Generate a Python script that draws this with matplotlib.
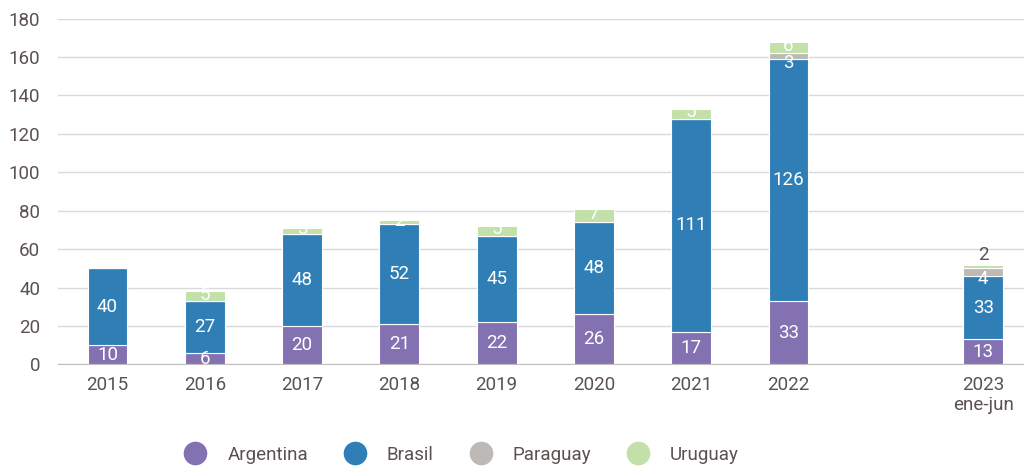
import numpy as np
import matplotlib.pyplot as plt
from matplotlib.lines import Line2D

plt.rcParams['font.family'] = ['Roboto', 'DejaVu Sans']

years = ['2015', '2016', '2017', '2018', '2019', '2020', '2021', '2022', '2023\nene-jun']
argentina = [10, 6, 20, 21, 22, 26, 17, 33, 13]
brasil = [40, 27, 48, 52, 45, 48, 111, 126, 33]
paraguay = [0, 0, 0, 0, 0, 0, 0, 3, 4]
uruguay = [0, 5, 3, 2, 5, 7, 5, 6, 2]

series = [('Argentina', argentina, '#8471b1'),
          ('Brasil', brasil, '#2f7fb6'),
          ('Paraguay', paraguay, '#bcb9b7'),
          ('Uruguay', uruguay, '#c2e0a8')]

txt = '#5a5150'
x = np.array([0, 1, 2, 3, 4, 5, 6, 7, 9])

fig = plt.figure(figsize=(10.24, 4.66), dpi=100)
ax = fig.add_axes([0.057, 0.218, 0.943, 0.742])

bottom = np.zeros(len(x))
for name, vals, col in series:
    vals = np.array(vals, dtype=float)
    ax.bar(x, vals, 0.41, bottom=bottom, color=col, edgecolor='white',
           linewidth=0.8, zorder=3)
    for xi, b, v in zip(x, bottom, vals):
        if v <= 0:
            continue
        if name == 'Uruguay' and xi == 9:
            # small value drawn above the bar
            ax.text(xi, b + v + 0.3, f'{int(v)}', ha='center', va='bottom',
                    color=txt, fontsize=13.5, zorder=4)
        elif name == 'Paraguay':
            ax.text(xi, b + v / 2 - 3.5, f'{int(v)}', ha='center', va='center',
                    color='white', fontsize=13.5, zorder=4)
        elif name == 'Uruguay':
            ax.text(xi, b + v / 2 + 0.8, f'{int(v)}', ha='center', va='center',
                    color='white', fontsize=13.5, zorder=4)
        else:
            ax.text(xi, b + v / 2, f'{int(v)}', ha='center', va='center',
                    color='white', fontsize=13.5, zorder=4)
    bottom += vals

ax.set_xlim(-0.505, 9.42)
ax.set_ylim(0, 180)
ax.set_yticks(range(0, 181, 20))
ax.set_xticks(x)
ax.set_xticklabels(years)
ax.grid(axis='y', color='#d9d9d9', linewidth=1, zorder=0)
for s in ['top', 'right', 'left']:
    ax.spines[s].set_visible(False)
ax.spines['bottom'].set_color('#bfbfbf')
ax.tick_params(axis='both', length=0, labelsize=13.5, colors=txt)
ax.tick_params(axis='y', pad=13)
ax.tick_params(axis='x', pad=8)

handles = [Line2D([], [], marker='o', linestyle='', markersize=16,
                  markerfacecolor=c, markeredgecolor=c, label=n)
           for n, _, c in series]
fig.legend(handles=handles, loc='center', bbox_to_anchor=(0.447, 0.024),
           ncol=4, frameon=False, fontsize=13.5, labelcolor=txt,
           columnspacing=1.5, handletextpad=0.7)

fig.savefig('out.png', dpi=100)
